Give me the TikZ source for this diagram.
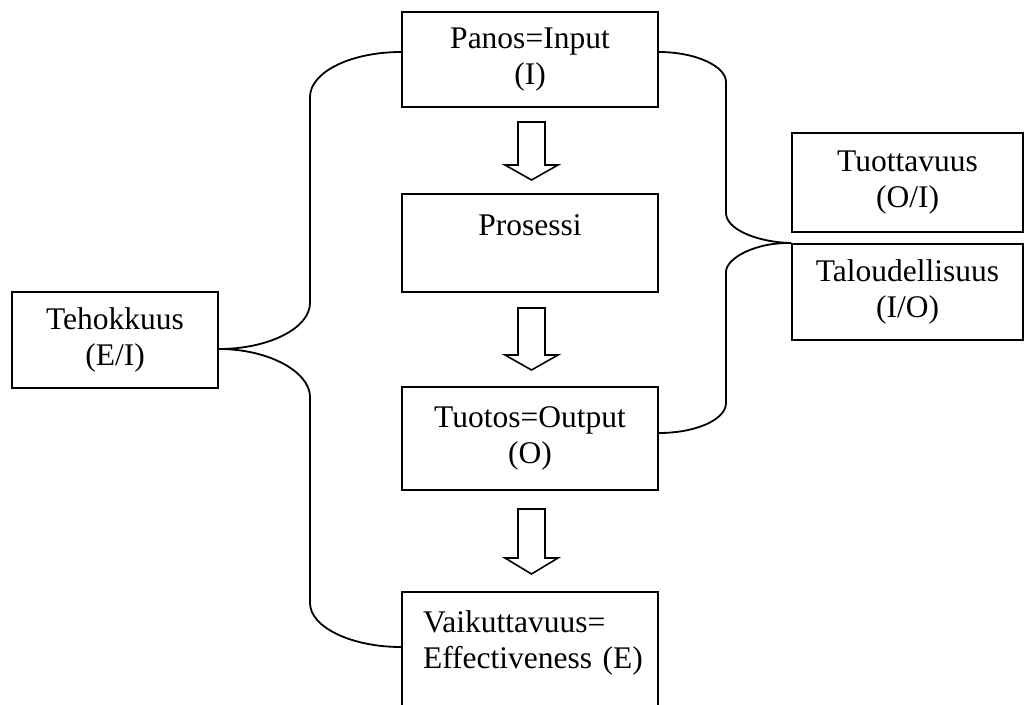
\documentclass[tikz,border=0pt]{standalone}
\usepackage{fontspec}
\setmainfont{Liberation Serif}
\usetikzlibrary{calc}
\begin{document}
\begin{tikzpicture}[x=1pt,y=-1pt,
  box/.style={draw, rectangle, line width=1.8pt, inner sep=0pt, align=center,
    font=\fontsize{31.5}{36}\selectfont},
  blockarr/.style={draw, line width=1.6pt, line join=miter, fill=white},
  brace/.style={draw, line width=1.8pt}]
\useasboundingbox (0,0) rectangle (1025,704);
\clip (0,0) rectangle (1025,704);
% central column
\node[box, minimum width=256pt, minimum height=95pt] (panos) at (530,59.5) {Panos=Input\\(I)};
\node[box, minimum width=256pt, minimum height=98pt] (proses) at (530,243) {Prosessi\\\mbox{}};
\node[box, minimum width=256pt, minimum height=103pt] (tuotos) at (530,438.5) {Tuotos=Output\\(O)};
\node[box, minimum width=256pt, minimum height=166.5pt, text width=230pt, align=left, inner xsep=13pt] (vaik) at (530,675.25) {\hspace*{8pt}Vaikuttavuus=\\\hspace*{8pt}Effectiveness (E)\\\mbox{}\\\mbox{}};
% side boxes
\node[box, minimum width=206pt, minimum height=96pt] (teho) at (115,340) {Tehokkuus\\(E/I)};
\node[box, minimum width=231pt, minimum height=99pt] (tuott) at (907.5,182.5) {Tuottavuus\\(O/I)};
\node[box, minimum width=231pt, minimum height=96pt] (talous) at (907.5,292) {Taloudellisuus\\(I/O)};
% block arrows
\draw[blockarr] (518,122) -- (518,165) -- (505,165) -- (531.5,180) -- (558,165) -- (545,165) -- (545,122) -- cycle;
\draw[blockarr] (518,308) -- (518,355) -- (505,355) -- (531.5,370) -- (558,355) -- (545,355) -- (545,308) -- cycle;
\draw[blockarr] (518,509) -- (518,558) -- (505,558) -- (531.5,574) -- (558,558) -- (545,558) -- (545,509) -- cycle;
% left brace
\draw[brace] ([yshift=7.5pt]panos.west) .. controls (351,52) and (310,72) .. (310,97)
  -- (310,303) .. controls (310,328) and (269,349) .. ([yshift=-9pt]teho.east);
\draw[brace] ([yshift=-9pt]teho.east) .. controls (269,349) and (310,372) .. (310,397)
  -- (310,603) .. controls (310,627) and (351,647) .. ([yshift=28.25pt]vaik.west);
% right brace
\draw[brace] ([yshift=7.5pt]panos.east) .. controls (695,52) and (726,66) .. (726,82)
  -- (726,213) .. controls (726,229) and (756,242) .. (talous.north west);
\draw[brace] ([yshift=5.5pt]tuotos.east) .. controls (695,433) and (726,420) .. (726,403)
  -- (726,272) .. controls (726,258) and (756,242) .. (talous.north west);
\end{tikzpicture}
\end{document}
